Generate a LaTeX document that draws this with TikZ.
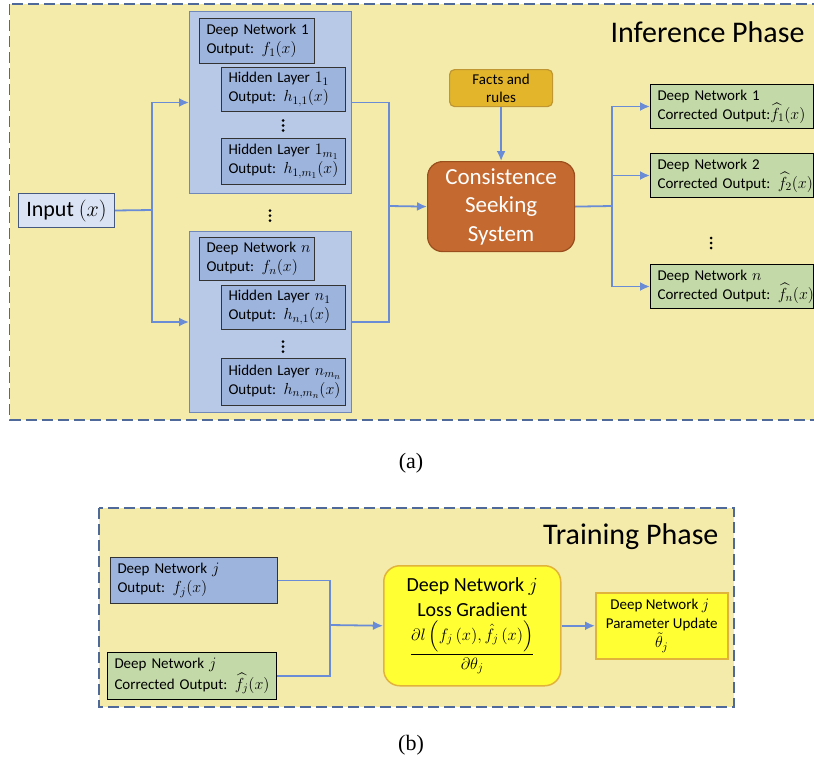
\RequirePackage{fix-cm}
\documentclass[tikz,border=0pt]{standalone}
\usepackage{amsmath}
\usepackage{fontspec}
\setmainfont{Carlito}
\newfontfamily\capfont{Liberation Serif}
\DeclareMathSizes{15}{16}{11.5}{9}
\DeclareMathSizes{20}{20}{14}{10}
\DeclareMathSizes{22}{22}{15}{11}
\DeclareMathSizes{16.5}{16.5}{12}{9}
\usetikzlibrary{arrows.meta}
\definecolor{panelbg}{HTML}{F4EBAA}
\definecolor{dashc}{HTML}{4F6A9A}
\definecolor{grpfill}{HTML}{B7C9E7}
\definecolor{grpdraw}{HTML}{6F88B8}
\definecolor{innerfill}{HTML}{9DB4DD}
\definecolor{inputfill}{HTML}{DAE3F3}
\definecolor{inputdraw}{HTML}{45597E}
\definecolor{factfill}{HTML}{E2B52B}
\definecolor{factdraw}{HTML}{BF9632}
\definecolor{cssfill}{HTML}{C4692F}
\definecolor{cssdraw}{HTML}{9A4E1E}
\definecolor{greenfill}{HTML}{C3D9A8}
\definecolor{arrowc}{HTML}{6A8CD6}
\definecolor{yelfill}{HTML}{FFFF33}
\definecolor{yeldraw}{HTML}{E2B33A}
\tikzset{
  panel/.style={draw=dashc, line width=1.6pt, dash pattern=on 11pt off 5pt, fill=panelbg},
  grp/.style={draw=grpdraw, line width=1pt, fill=grpfill, anchor=north west, inner sep=0pt},
  txtbox/.style={line width=1pt, anchor=north west, inner xsep=7pt, inner ysep=0pt, align=left,
    font=\fontsize{15}{19}\selectfont},
  inbox/.style={txtbox, draw=black!80, fill=innerfill},
  greenbox/.style={txtbox, draw=black, fill=greenfill},
  conn/.style={draw=arrowc, line width=1.8pt},
  arr/.style={conn, -{Latex[length=10pt,width=9pt]}},
  phase/.style={anchor=base east, font=\fontsize{30}{34}\selectfont},
  dot/.style={fill=black, circle, inner sep=0pt, minimum size=3pt},
}
\begin{document}
\begin{tikzpicture}[x=1pt,y=-1pt]
\useasboundingbox (0,0) rectangle (814,763);
\fill[white] (0,0) rectangle (814,763);
\begin{scope}
\clip (0,0) rectangle (814,763);
% ---------------- (a) Inference phase
\draw[panel] (9.5,4) rectangle (840,420);
\node[phase] (inftitle) at (808,42) {Inference Phase};

\node[draw=inputdraw, fill=inputfill, line width=1pt, anchor=north west, minimum width=96pt, minimum height=34pt,
  inner sep=0pt, font=\fontsize{22}{26}\selectfont] (inp) at (18,193) {Input $(x)$};

% group 1
\node[grp, minimum width=162pt, minimum height=182pt] (g1) at (189,11) {};
\node[inbox, text width=101pt, minimum height=45pt] (dn1) at (199,18) {\mbox{Deep Network 1}\\\mbox{Output: $f_1(x)$}};
\node[inbox, text width=110pt, minimum height=44pt] (h11) at (221,67) {\mbox{Hidden Layer $1_1$}\\\mbox{Output: $h_{1,1}(x)$}};
\node[inbox, text width=110pt, minimum height=46pt] (h1m) at (221,138) {\mbox{Hidden Layer $1_{m_1}$}\\\mbox{Output: $h_{1,m_1}(x)$}};
\foreach \yy in {120.5,125.5,130.5} \node[dot] at (283,\yy) {};

% dots between groups
\foreach \yy in {210.5,215.5,220.5} \node[dot] at (270,\yy) {};

% group n
\node[grp, minimum width=162pt, minimum height=181pt] (gn) at (189,231) {};
\node[inbox, text width=101pt, minimum height=43pt] (dnn) at (199,237) {\mbox{Deep Network $n$}\\\mbox{Output: $f_n(x)$}};
\node[inbox, text width=110pt, minimum height=44pt] (hn1) at (221,285) {\mbox{Hidden Layer $n_1$}\\\mbox{Output: $h_{n,1}(x)$}};
\node[inbox, text width=110pt, minimum height=47pt] (hnm) at (221,358) {\mbox{Hidden Layer $n_{m_n}$}\\\mbox{Output: $h_{n,m_n}(x)$}};
\foreach \yy in {341.5,346.5,351.5} \node[dot] at (283,\yy) {};

% facts and CSS
\node[draw=factdraw, fill=factfill, line width=1.2pt, rounded corners=5pt, anchor=north west,
  minimum width=103pt, minimum height=37pt, inner sep=0pt, align=center,
  font=\fontsize{15}{18}\selectfont] (facts) at (449,69) {Facts and\\rules};
\node[draw=cssdraw, fill=cssfill, line width=1.2pt, rounded corners=15pt, anchor=north west,
  minimum width=147pt, minimum height=90pt, inner sep=0pt, align=center, text=white,
  font=\fontsize{23}{28.5}\selectfont] (css) at (427,161) {Consistence\\Seeking\\System};

% corrected outputs
\node[greenbox, text width=149pt, minimum height=44pt] (gr1) at (650,84) {\mbox{Deep Network 1}\\\mbox{Corrected Output:$\widehat{f}_1(x)$}};
\node[greenbox, text width=149pt, minimum height=44pt] (gr2) at (650,153) {\mbox{Deep Network 2}\\\mbox{Corrected Output: $\widehat{f}_2(x)$}};
\foreach \yy in {238,243,248} \node[dot] at (711,\yy) {};
\node[greenbox, text width=149pt, minimum height=44pt] (grn) at (650,264) {\mbox{Deep Network $n$}\\\mbox{Corrected Output: $\widehat{f}_n(x)$}};

% connectors (a)
\coordinate (s1) at (152,210);
\coordinate (m1) at (389,206);
\coordinate (s2) at (612,206);
\draw[conn] (inp.east) -- (s1);
\draw[arr] (s1) |- (g1.west);
\draw[arr] (s1) |- (gn.west);
\draw[conn] (g1.east) -| (m1);
\draw[conn] (gn.east) -| (m1);
\draw[arr] (m1) -- (css.west);
\draw[arr] (facts.south) -- (css.north);
\draw[conn] (css.east) -- (s2);
\draw[arr] (s2) |- (gr1.west);
\draw[arr] (s2) |- (gr2.west);
\draw[arr] (s2) |- (grn.west);

\node[font=\capfont\fontsize{22}{26}\selectfont] (lbla) at (411,463) {(a)};

% ---------------- (b) Training phase
\draw[panel] (99,508) rectangle (734,707);
\node[phase] (trtitle) at (722,544) {Training Phase};

\node[txtbox, draw=black!80, fill=innerfill, text width=153pt, minimum height=46pt] (dbj) at (110,557) {\mbox{Deep Network $j$}\\\mbox{Output: $f_j(x)$}};
\node[greenbox, text width=155pt, minimum height=47pt] (dgj) at (107,652) {\mbox{Deep Network $j$}\\\mbox{Corrected Output: $\widehat{f}_j(x)$}};

\node[draw=yeldraw, fill=yelfill, line width=1.5pt, rounded corners=16pt, anchor=north west,
  minimum width=177pt, minimum height=120pt, inner sep=0pt, align=center,
  font=\fontsize{20}{25}\selectfont] (loss) at (383,565)
  {Deep Network $j$\\Loss Gradient\\[3pt]{\fontsize{16.5}{20}\selectfont$\dfrac{\partial l\left(f_j\,(x),\hat{f}_j\,(x)\right)}{\partial\theta_j}$}};
\node[draw=yeldraw, fill=yelfill, line width=1.5pt, anchor=north west,
  minimum width=132pt, minimum height=66pt, inner sep=0pt, align=center,
  font=\fontsize{15}{19}\selectfont] (upd) at (595,592)
  {\hspace*{-4pt}Deep Network $j$\\Parameter Update\\$\tilde{\theta}_j$};

\coordinate (m2) at (330,625);
\draw[conn] (dbj.east) -| (m2);
\draw[conn] (dgj.east) -| (m2);
\draw[arr] (m2) -- (loss.west);
\draw[arr] (loss.east) -- (upd.west);

\node[font=\capfont\fontsize{22}{26}\selectfont] (lblb) at (411,745) {(b)};
\end{scope}
\end{tikzpicture}
\end{document}
